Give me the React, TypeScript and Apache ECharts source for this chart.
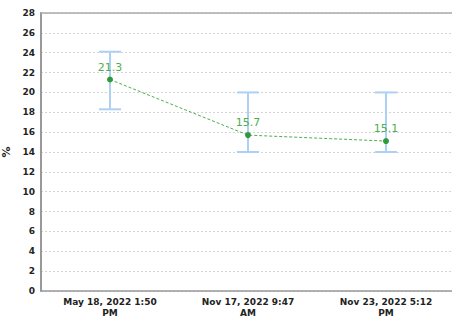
import React, { useEffect, useRef } from "react";
import * as echarts from "echarts";

const categories = ["May 18, 2022 1:50\nPM", "Nov 17, 2022 9:47\nAM", "Nov 23, 2022 5:12\nPM"];
const values = [21.3, 15.7, 15.1];
const errLow = [18.3, 14, 14];
const errHigh = [24.1, 20, 20];
const yTicks = { min: 0, max: 28, interval: 2 };

export default function App() {
  const ref = useRef<HTMLDivElement>(null);
  useEffect(() => {
    const chart = echarts.init(ref.current!, null, { renderer: "svg" });
    const font = "DejaVu Sans";
    chart.setOption({
      animation: false,
      grid: { left: 41, right: -3, top: 13, bottom: 27, containLabel: false, outerBoundsMode: "none" },
      xAxis: [
        {
          type: "category",
          data: categories,
          boundaryGap: true,
          axisLine: { lineStyle: { color: "#999", width: 1.5 } },
          axisTick: { alignWithLabel: true, length: 3, lineStyle: { color: "#bbb" } },
          axisLabel: {
            color: "#222",
            fontFamily: font,
            fontWeight: "bold",
            fontSize: 9,
            lineHeight: 11,
            margin: 5,
          },
          splitLine: { show: false },
        },
        {
          type: "category",
          data: categories,
          position: "top",
          axisLine: { lineStyle: { color: "#aaa", width: 1.5 } },
          axisTick: { show: false },
          axisLabel: { show: false },
        },
      ],
      yAxis: {
        type: "value",
        min: yTicks.min,
        max: yTicks.max,
        interval: yTicks.interval,
        name: "%",
        nameLocation: "middle",
        nameGap: 23,
        nameTextStyle: { color: "#222", fontFamily: font, fontWeight: "bold", fontSize: 11 },
        axisLine: { show: true, lineStyle: { color: "#999", width: 2 } },
        axisTick: { show: false },
        axisLabel: { color: "#222", fontFamily: font, fontWeight: "bold", fontSize: 9, margin: 6 },
        splitLine: { lineStyle: { color: "#d4d4d4", type: [2, 2], width: 1 } },
      },
      series: [
        {
          type: "custom",
          data: categories.map((_, i) => [i, errLow[i], errHigh[i]]),
          renderItem: (params: any, api: any) => {
            const x = api.value(0);
            const lo = api.coord([x, api.value(1)]);
            const hi = api.coord([x, api.value(2)]);
            const hw = 11;
            const style = { stroke: "#add1f3", lineWidth: 2 };
            return {
              type: "group",
              children: [
                { type: "line", shape: { x1: lo[0], y1: lo[1], x2: hi[0], y2: hi[1] }, style },
                { type: "line", shape: { x1: lo[0] - hw, y1: lo[1], x2: lo[0] + hw, y2: lo[1] }, style },
                { type: "line", shape: { x1: hi[0] - hw, y1: hi[1], x2: hi[0] + hw, y2: hi[1] }, style },
              ],
            };
          },
          z: 1,
        },
        {
          type: "line",
          data: values,
          symbol: "circle",
          symbolSize: 6,
          itemStyle: { color: "#2e9a3c" },
          lineStyle: { color: "#4caf50", width: 1, type: [3, 2] },
          label: {
            show: true,
            position: "top",
            distance: 4,
            color: "#4caf50",
            fontFamily: font,
            fontSize: 11,
          },
          z: 3,
        },
      ],
    });
    return () => chart.dispose();
  }, []);
  return <div ref={ref} style={{ width: 452, height: 318, position: "absolute", left: 0, top: 0 }} />;
}
